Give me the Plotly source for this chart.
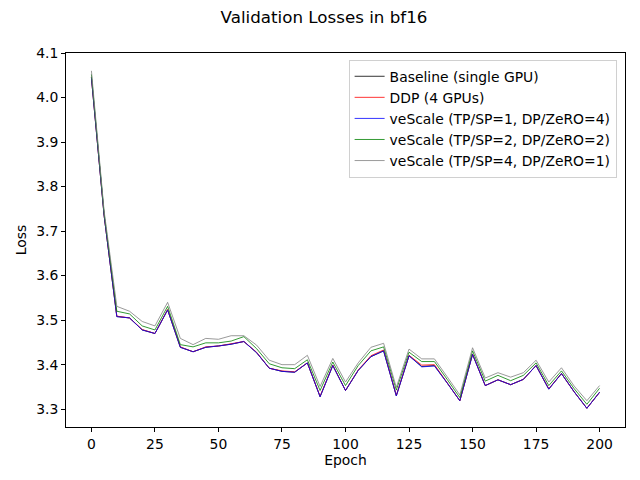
"""Validation losses in bf16, redrawn with plotly"""

import plotly.graph_objects as go

# Data
# --------------------
epochs = list(range(0, 205, 5))

# black / red / blue lines overlap almost completely
loss_baseline = [4.045, 3.735, 3.508, 3.505, 3.478, 3.470, 3.523, 3.439, 3.429, 3.439,
                 3.442, 3.446, 3.452, 3.427, 3.392, 3.385, 3.383, 3.404, 3.328, 3.398,
                 3.342, 3.387, 3.418, 3.431, 3.330, 3.420, 3.396, 3.398, 3.359, 3.319,
                 3.423, 3.353, 3.366, 3.355, 3.367, 3.398, 3.345, 3.380, 3.339, 3.302,
                 3.338]
loss_ddp = [4.045, 3.735, 3.509, 3.505, 3.479, 3.470, 3.524, 3.440, 3.429, 3.440,
            3.442, 3.447, 3.452, 3.428, 3.392, 3.386, 3.384, 3.404, 3.329, 3.399,
            3.342, 3.388, 3.420, 3.433, 3.331, 3.421, 3.399, 3.400, 3.360, 3.319,
            3.424, 3.353, 3.366, 3.355, 3.367, 3.398, 3.346, 3.380, 3.339, 3.302,
            3.338]
loss_tp1 = [4.045, 3.735, 3.508, 3.505, 3.478, 3.470, 3.523, 3.439, 3.429, 3.439,
            3.442, 3.446, 3.452, 3.427, 3.392, 3.385, 3.383, 3.404, 3.328, 3.398,
            3.342, 3.387, 3.418, 3.431, 3.330, 3.420, 3.395, 3.397, 3.359, 3.319,
            3.423, 3.353, 3.366, 3.355, 3.367, 3.398, 3.345, 3.380, 3.339, 3.302,
            3.338]
loss_tp2 = [4.052, 3.740, 3.520, 3.514, 3.487, 3.478, 3.531, 3.445, 3.440, 3.449,
            3.449, 3.453, 3.463, 3.436, 3.402, 3.393, 3.391, 3.411, 3.342, 3.406,
            3.353, 3.398, 3.431, 3.440, 3.343, 3.428, 3.407, 3.407, 3.367, 3.326,
            3.431, 3.363, 3.376, 3.364, 3.376, 3.404, 3.353, 3.386, 3.346, 3.311,
            3.347]
loss_tp4 = [4.060, 3.745, 3.531, 3.520, 3.497, 3.487, 3.540, 3.459, 3.445, 3.459,
            3.457, 3.465, 3.465, 3.444, 3.410, 3.400, 3.400, 3.421, 3.351, 3.414,
            3.361, 3.404, 3.439, 3.448, 3.349, 3.435, 3.413, 3.413, 3.373, 3.332,
            3.438, 3.370, 3.382, 3.372, 3.382, 3.410, 3.361, 3.393, 3.352, 3.319,
            3.353]

series_names = [
    "Baseline (single GPU)",
    "DDP (4 GPUs)",
    "veScale (TP/SP=1, DP/ZeRO=4)",
    "veScale (TP/SP=2, DP/ZeRO=2)",
    "veScale (TP/SP=4, DP/ZeRO=1)",
]
series_values = [loss_baseline, loss_ddp, loss_tp1, loss_tp2, loss_tp4]
series_colors = ["black", "red", "blue", "green", "gray"]

x_ticks = [0, 25, 50, 75, 100, 125, 150, 175, 200]
y_ticks = [3.3, 3.4, 3.5, 3.6, 3.7, 3.8, 3.9, 4.0, 4.1]

FONT = "DejaVu Sans"
FS = 13.9  # 10pt at 100 dpi

fig = go.Figure()
for name, vals, col in zip(series_names, series_values, series_colors):
    fig.add_trace(go.Scatter(x=epochs, y=vals, mode="lines", name=name,
                             line=dict(color=col, width=0.8)))

axis_style = dict(
    showline=True, linecolor="black", linewidth=1, mirror=True,
    ticks="outside", ticklen=4, tickwidth=1, tickcolor="black",
    showgrid=False, zeroline=False,
    tickfont=dict(family=FONT, size=FS, color="black"),
)

fig.update_xaxes(range=[-10, 210], tickvals=x_ticks,
                 title=dict(text="Epoch", font=dict(family=FONT, size=FS, color="black"), standoff=1),
                 **axis_style)
fig.update_yaxes(range=[3.26, 4.10], tickvals=y_ticks,
                 ticktext=[f"{v:.1f}" for v in y_ticks],
                 title=dict(text="Loss", font=dict(family=FONT, size=FS, color="black"), standoff=6),
                 **axis_style)

# the page puts the plot 8px in from the top-left corner, so the figure is
# sized and its margins shifted to land the axes where the reference has them
fig.update_layout(
    width=632, height=472,
    margin=dict(l=58, r=15, t=45, b=53),
    paper_bgcolor="white", plot_bgcolor="white",
    title=dict(text="Validation Losses in bf16", x=0.5, xanchor="center",
               y=0.981, yanchor="middle",
               font=dict(family=FONT, size=16.7, color="black")),
    legend=dict(x=0.985, y=0.982, xanchor="right", yanchor="top",
                bgcolor="rgba(255,255,255,0.8)", bordercolor="#d0d0d0", borderwidth=1,
                font=dict(family=FONT, size=FS, color="black"),
                itemwidth=30, tracegroupgap=0),
    showlegend=True,
)

fig.write_html("out.html")
